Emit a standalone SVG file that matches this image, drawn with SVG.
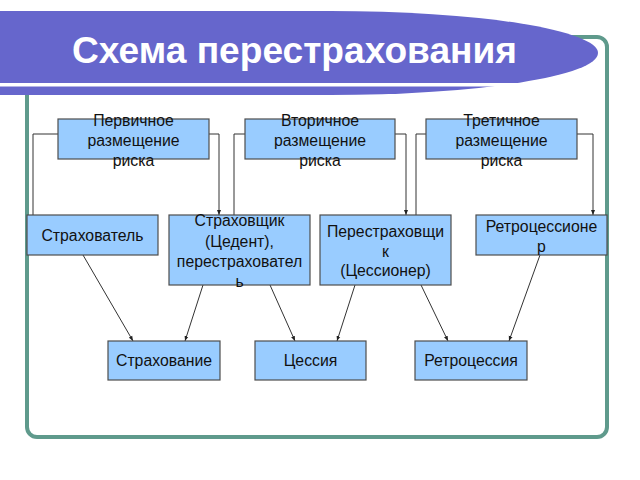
<svg xmlns="http://www.w3.org/2000/svg" width="640" height="480" viewBox="0 0 640 480">
<defs>
<marker id="arr" viewBox="0 0 10 10" refX="10" refY="5" markerWidth="5" markerHeight="5" orient="auto">
<path d="M0,1 L10,5 L0,9 z" fill="#222"/>
</marker>
<style>
.box{fill:#99ccff;stroke:#4d4d4d;stroke-width:1.2}
.t{font-family:"Liberation Sans",Arial,sans-serif;font-size:15.8px;fill:#111;text-anchor:middle}
.c{fill:none;stroke:#333;stroke-width:1}
.a{fill:none;stroke:#333;stroke-width:1;marker-end:url(#arr)}
</style>
</defs>
<rect width="640" height="480" fill="#ffffff"/>
<rect x="27" y="37" width="580" height="400" rx="10" ry="10" fill="#ffffff" stroke="#5f9a8c" stroke-width="4"/>
<g id="title">
<path d="M0,11 L330,11 A268,42 0 0 1 330,95 L0,95 z" fill="#6666cc"/>
<rect x="0" y="83" width="520" height="3.5" fill="#ffffff"/>
<text x="72" y="63" font-family="'Liberation Sans',Arial,sans-serif" font-size="36" font-weight="bold" fill="#ffffff" textLength="445" lengthAdjust="spacingAndGlyphs">Схема перестрахования</text>
</g>
<g id="connectors">
<polyline class="c" points="58,134 33,134 33,215"/>
<polyline class="a" points="209,134 219,134 219,215"/>
<polyline class="c" points="245,134 234,134 234,215"/>
<polyline class="a" points="395,134 406,134 406,215"/>
<polyline class="c" points="426,134 416,134 416,215"/>
<polyline class="a" points="577,134 593,134 593,215"/>
<line class="a" x1="83" y1="255" x2="133" y2="341"/>
<line class="a" x1="203" y1="285" x2="185" y2="341"/>
<line class="a" x1="270" y1="285" x2="295" y2="341"/>
<line class="a" x1="355" y1="285" x2="337" y2="341"/>
<line class="a" x1="421" y1="285" x2="448" y2="341"/>
<line class="a" x1="540" y1="255" x2="509" y2="341"/>
</g>
<g id="primary">
<rect class="box" x="58" y="119" width="151" height="40"/>
<text class="t" x="133.5" y="126">Первичное</text>
<text class="t" x="133.5" y="146">размещение</text>
<text class="t" x="133.5" y="166">риска</text>
</g>
<g id="secondary">
<rect class="box" x="245" y="119" width="150" height="40"/>
<text class="t" x="320" y="126">Вторичное</text>
<text class="t" x="320" y="146">размещение</text>
<text class="t" x="320" y="166">риска</text>
</g>
<g id="tertiary">
<rect class="box" x="426" y="119" width="151" height="40"/>
<text class="t" x="501.5" y="126">Третичное</text>
<text class="t" x="501.5" y="146">размещение</text>
<text class="t" x="501.5" y="166">риска</text>
</g>
<g id="insured">
<rect class="box" x="27" y="215" width="131" height="40"/>
<text class="t" x="92.5" y="241">Страхователь</text>
</g>
<g id="insurer">
<rect class="box" x="169" y="215" width="141" height="70"/>
<text class="t" x="239.5" y="226">Страховщик</text>
<text class="t" x="239.5" y="247">(Цедент),</text>
<text class="t" x="239.5" y="267">перестраховател</text>
<text class="t" x="239.5" y="287">ь</text>
</g>
<g id="reinsurer">
<rect class="box" x="320" y="215" width="131" height="70"/>
<text class="t" x="385.5" y="237">Перестраховщи</text>
<text class="t" x="385.5" y="257">к</text>
<text class="t" x="385.5" y="276">(Цессионер)</text>
</g>
<g id="retrocessionaire">
<rect class="box" x="476" y="215" width="131" height="40"/>
<text class="t" x="541.5" y="232">Ретроцессионе</text>
<text class="t" x="541.5" y="252">р</text>
</g>
<g id="insurance">
<rect class="box" x="108" y="341" width="112" height="39"/>
<text class="t" x="164" y="366">Страхование</text>
</g>
<g id="cession">
<rect class="box" x="255" y="341" width="111" height="39"/>
<text class="t" x="310.5" y="366">Цессия</text>
</g>
<g id="retrocession">
<rect class="box" x="415" y="341" width="112" height="39"/>
<text class="t" x="471" y="366">Ретроцессия</text>
</g>
</svg>
